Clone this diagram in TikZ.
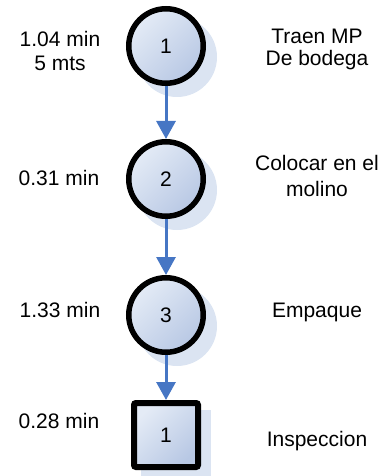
\documentclass[tikz,border=0pt]{standalone}
\usepackage{fontspec}
\setmainfont{Liberation Sans}
\usetikzlibrary{arrows.meta}
\definecolor{flowblue}{RGB}{70,118,196}
\definecolor{shadowblue}{RGB}{219,228,242}
\definecolor{filllight}{RGB}{228,235,246}
\definecolor{filldark}{RGB}{184,200,228}
\tikzset{
  opcircle/.style={circle, draw=black, line width=5.5pt, minimum size=74.5pt, inner sep=0pt,
    top color=filllight, bottom color=filldark, shading angle=45, font=\fontsize{21}{25}\selectfont},
  opshadow/.style={circle, fill=shadowblue, draw=none, minimum size=80pt, inner sep=0pt},
  inspbox/.style={rectangle, draw=black, line width=6pt, minimum size=64pt, inner sep=0pt,
    rounded corners=2pt, top color=filllight, bottom color=filldark, shading angle=45,
    font=\fontsize{21}{25}\selectfont},
  boxshadow/.style={rectangle, fill=shadowblue, draw=none, minimum size=70pt, inner sep=0pt},
  flow/.style={draw=flowblue, line width=3pt, -{Triangle[width=19pt,length=18pt]}},
  lbl/.style={anchor=base, inner sep=0pt, font=\fontsize{21}{25}\selectfont}
}
\begin{document}
\begin{tikzpicture}[x=1pt, y=-1pt]
  \useasboundingbox (0,0) rectangle (385,476);
  \clip (0,0) rectangle (385,476);

  % shadows behind the symbols
  \node[opshadow] (s1) at (177,57) {};
  \node[opshadow] (s2) at (177,190) {};
  \node[opshadow] (s3) at (177,326) {};
  \node[boxshadow] (s4) at (176,445) {};

  % operations and inspection
  \node[opcircle] (op1) at (166,46) {1};
  \node[opcircle] (op2) at (166,179) {2};
  \node[opcircle] (op3) at (166,315) {3};
  \node[inspbox] (in1) at (166,435) {1};

  % flow connectors
  \draw[flow] (op1.south) -- (op2.north);
  \draw[flow] (op2.south) -- (op3.north);
  \draw[flow] (op3.south) -- (in1.north);

  % times and distances
  \node[lbl] (t1a) at (60,47) {1.04 min};
  \node[lbl] (t1b) at (60,71) {5 mts};
  \node[lbl] (t2) at (59,185) {0.31 min};
  \node[lbl] (t3) at (60,317) {1.33 min};
  \node[lbl] (t4) at (59,428) {0.28 min};

  % descriptions
  \node[lbl] (d1a) at (317,44) {Traen MP};
  \node[lbl] (d1b) at (317,66) {De bodega};
  \node[lbl] (d2a) at (317,170) {Colocar en el};
  \node[lbl] (d2b) at (317,196) {molino};
  \node[lbl] (d3) at (317,317) {Empaque};
  \node[lbl] (d4) at (317,446) {Inspeccion};
\end{tikzpicture}
\end{document}
